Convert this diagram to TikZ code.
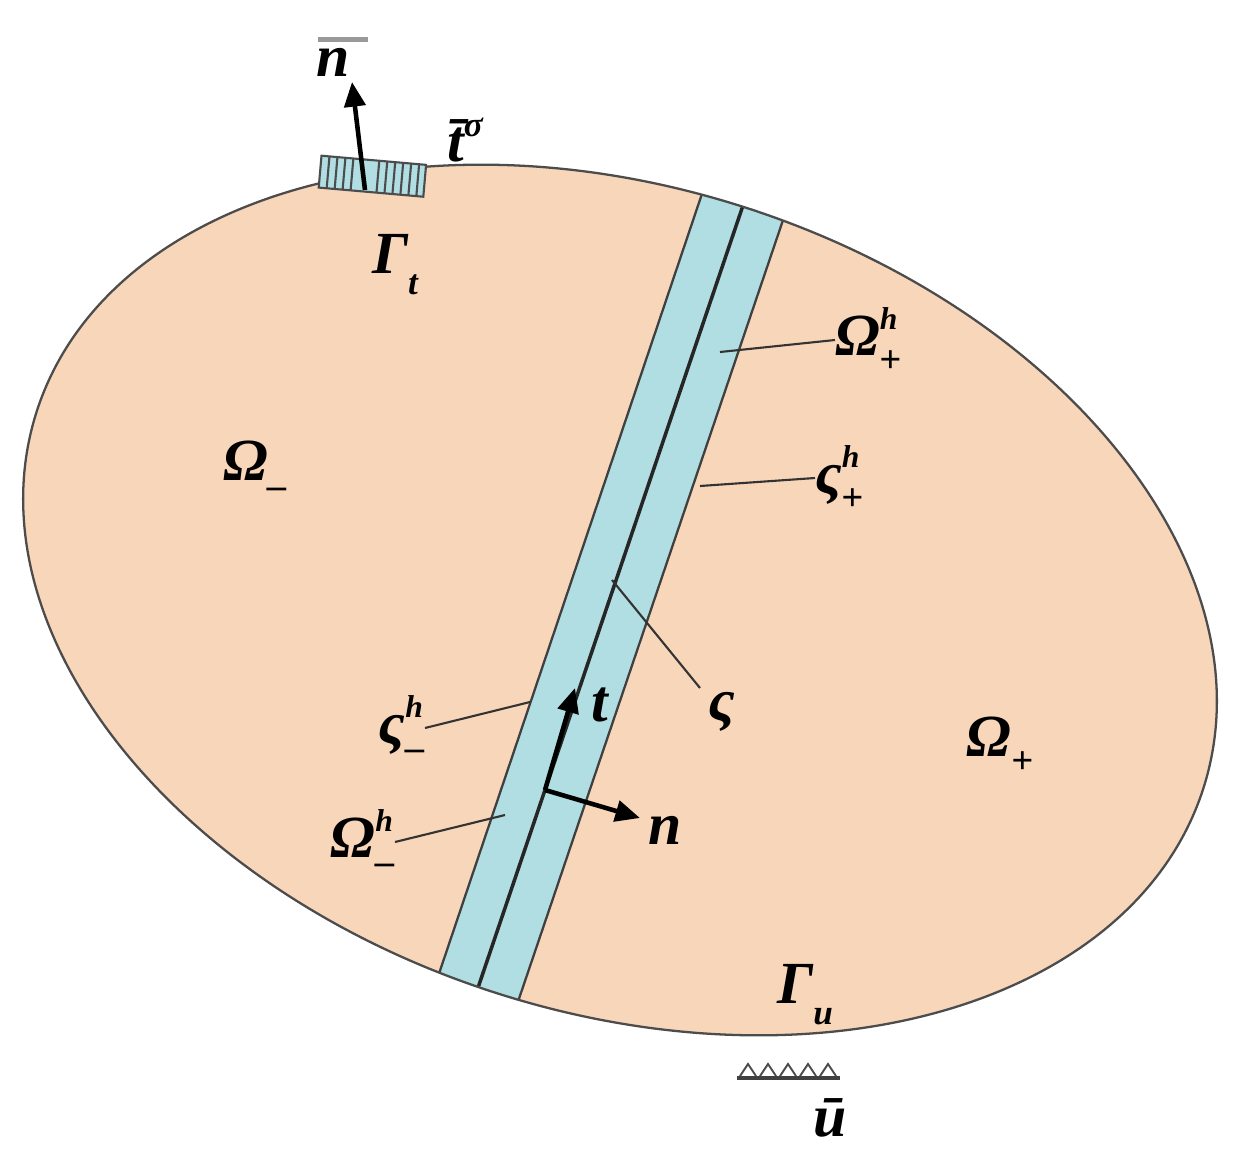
\documentclass[tikz,border=0pt]{standalone}
\usepackage{fontspec}
\setmainfont{Liberation Serif}
\usetikzlibrary{arrows.meta}
\definecolor{body}{RGB}{248,214,186}
\definecolor{band}{RGB}{176,222,226}
\tikzset{lbl/.style={font=\fontsize{34}{40}\selectfont\bfseries\itshape, inner sep=0pt},
 lead/.style={draw=black!80, line width=1.2pt},
 vec/.style={line width=2.6pt, -{Triangle[length=14pt,width=12pt]}}}
\begin{document}
\begin{tikzpicture}[x=0.02cm,y=-0.02cm]
\useasboundingbox (0,0) rectangle (1244,1170);
\def\ell{(620,600) ellipse[x radius=613, y radius=412, rotate=-18]}
\fill[body] \ell;
\begin{scope}
\clip \ell;
\fill[band] (420,1030) -- (710,170) -- (800,170) -- (505,1040) -- cycle;
\draw[line width=1.3pt, black!75] (420,1030) -- (710,170);
\draw[line width=1.3pt, black!75] (505,1040) -- (800,170);
\draw[line width=2pt, black!85] (462,1035) -- (755,170);
\end{scope}
\draw[line width=1.3pt, black!70] \ell;
% traction patch
\begin{scope}[rotate around={-5:(370,175)}]
\fill[band] (320,160) rectangle (425,192);
\foreach \x in {328,336,344,352,378,386,394,402,410,418} \draw[black!70, line width=1.2pt] (\x,160) -- (\x,192);
\draw[black!70, line width=1.2pt] (320,160) rectangle (425,192);
\end{scope}
\coordinate (nb0) at (365,190);
\coordinate (nb1) at (352,82);
\draw[vec] (nb0) -- (nb1);
\node[lbl] (nbar) at (333,62) {n};
\draw[black!40, line width=2.5pt] (nbar.north west) ++(2,-8) -- ++(50,0);
\node[lbl] (tbar) at (465,140) {t̄\raisebox{14pt}{\fontsize{20}{20}\selectfont σ}};
\node[lbl] (Gt) at (395,265) {Γ\raisebox{-12pt}{\fontsize{20}{20}\selectfont t}};
\node[lbl] (Om) at (255,470) {Ω\raisebox{-10pt}{\fontsize{22}{20}\selectfont –}};
\node[lbl] (Op) at (1000,745) {Ω\raisebox{-10pt}{\fontsize{22}{20}\selectfont +}};
\node[lbl] (Gu) at (805,995) {Γ\raisebox{-12pt}{\fontsize{20}{20}\selectfont u}};
\node[lbl] (ubar) at (830,1118) {ū};
% supports
\foreach \x in {740,760,780,800,820} \draw[black!70, line width=1.1pt] (\x,1076) -- (\x+8,1064) -- (\x+16,1076);
\draw[black!75, line width=2pt] (737,1078) -- (840,1078);
% leaders and labels
\coordinate (a1) at (720,352); \node[lbl,anchor=west] (Oph) at (835,340) {Ω\rlap{\raisebox{15pt}{\fontsize{18}{20}\selectfont h}}\raisebox{-10pt}{\fontsize{22}{20}\selectfont +}};
\draw[lead] (a1) -- (Oph.west);
\coordinate (a2) at (700,486); \node[lbl,anchor=west] (sph) at (815,478) {ς\rlap{\raisebox{15pt}{\fontsize{18}{20}\selectfont h}}\raisebox{-10pt}{\fontsize{22}{20}\selectfont +}};
\draw[lead] (a2) -- (sph.west);
\coordinate (a3) at (612,580); \node[lbl] (s) at (722,712) {ς};
\draw[lead] (a3) -- (700,688);
\coordinate (a4) at (530,702); \node[lbl,anchor=east] (smh) at (425,728) {ς\rlap{\raisebox{15pt}{\fontsize{18}{20}\selectfont h}}\raisebox{-10pt}{\fontsize{22}{20}\selectfont –}};
\draw[lead] (a4) -- (smh.east);
\coordinate (a5) at (505,815); \node[lbl,anchor=east] (Omh) at (395,842) {Ω\rlap{\raisebox{15pt}{\fontsize{18}{20}\selectfont h}}\raisebox{-10pt}{\fontsize{22}{20}\selectfont –}};
\draw[lead] (a5) -- (Omh.east);
% local frame
\coordinate (o) at (545,790);
\coordinate (tt) at (575,688);
\coordinate (nn) at (640,818);
\draw[vec] (o) -- (tt);
\draw[vec] (o) -- (nn);
\node[lbl] (tl) at (600,705) {t};
\node[lbl] (nl) at (665,830) {n};
\end{tikzpicture}
\end{document}
